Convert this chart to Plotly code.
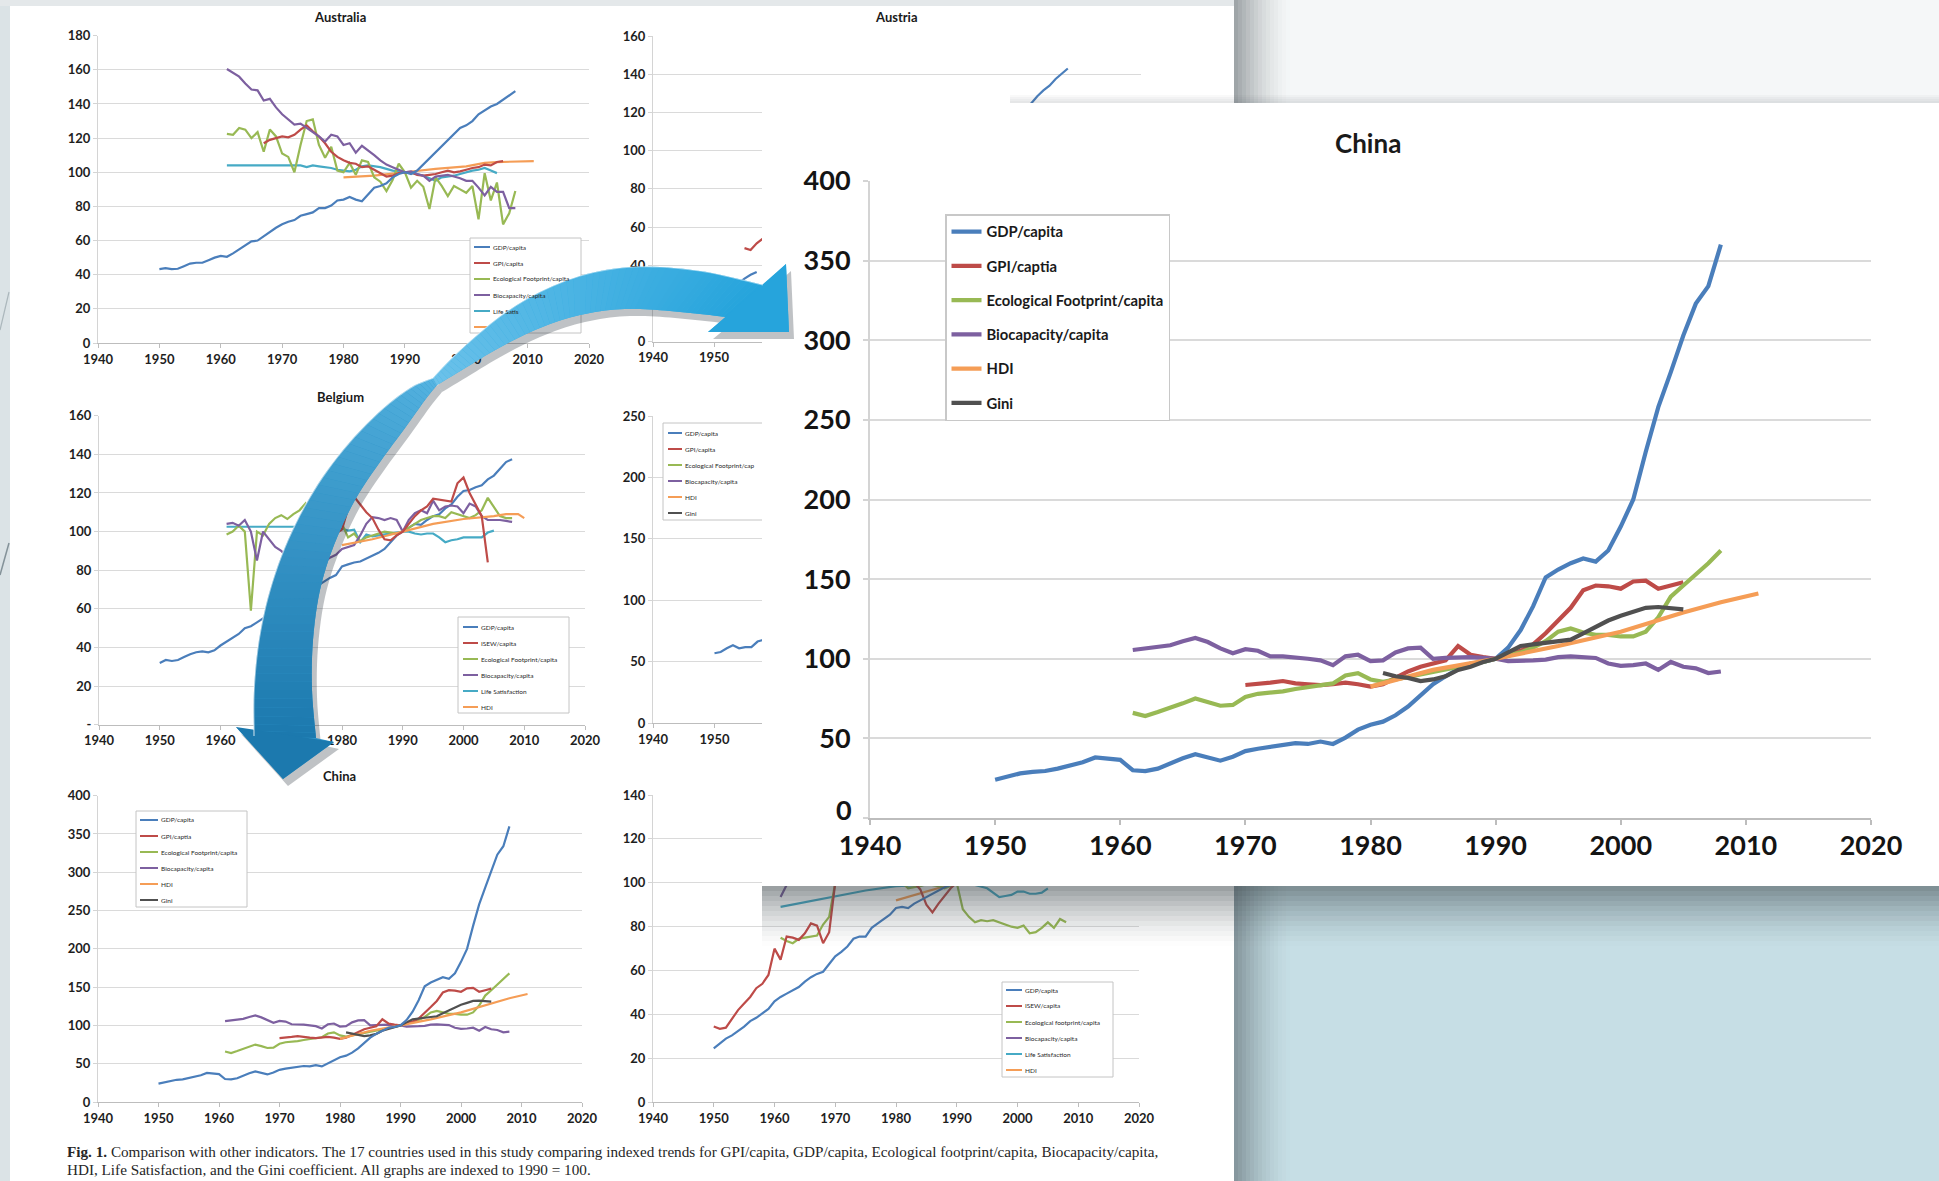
import plotly.graph_objects as go

W, H = 1939, 1181

# ===================== DATA (all series indexed, 1990 = 100) =====================
DECADES = [1940, 1950, 1960, 1970, 1980, 1990, 2000, 2010, 2020]
VISIBLE_DECADES = [1940, 1950]   # ticks left of the card on the two covered charts
BIG_Y_TICKS = [0, 50, 100, 150, 200, 250, 300, 350, 400]
BIG_Y_TEXT = ['', '50', '100', '150', '200', '250', '300', '350', '400']  # "0" sits higher, drawn apart

# ---- China (shown small on the page and enlarged on the card) ----
CHN_GDP_START = 1950
CHN_GDP = [24, 26, 28, 29, 29.5, 31, 33, 35, 38, 37.5,
           36.5, 30, 29.5, 31, 34.5, 37.5, 40, 38, 36, 38.5,
           42, 43.5, 44.5, 46, 47, 46.5, 48, 46.5, 50.5, 55.5,
           58.5, 60.5, 64.5, 70, 77, 84, 89, 93.5, 97, 98,
           100, 107, 118, 133, 151, 156, 160, 163, 161, 168,
           183, 200, 230, 258, 280, 303, 323, 334, 360]
CHN_GPI_START = 1970
CHN_GPI = [83.5, 84, 85, 86, 84.5, 84, 83.5, 84, 85, 84,
           82.5, 84, 88, 92, 95, 97, 99, 108, 102.5, 101,
           100, 103, 105, 109, 116, 124, 132, 143, 146, 145.5,
           144, 148.5, 149, 144, 146, 148]
CHN_ECO_START = 1961
CHN_ECO = [66, 64, 66.5, 69, 72, 75, 73, 70.5, 71, 76,
           78, 78.5, 79.5, 81, 82, 83, 84.5, 89.5, 91, 87,
           85.5, 87, 88.5, 90, 92, 93.5, 95, 96, 98, 100,
           102, 104, 107, 111, 117, 119, 116.5, 115, 115, 114,
           114, 117, 126, 139, 146, 153, 160, 168]
CHN_BIO_START = 1961
CHN_BIO = [105.5, 106.5, 107, 108.5, 111, 113, 110.5, 106.5, 103.5, 106,
           105, 101.5, 101.5, 101, 100, 99, 96, 101.5, 102.5, 98.5,
           99, 104, 106.5, 107, 100, 100.5, 101, 101, 100.5, 100,
           98.5, 98.5, 99, 99.5, 101, 101.5, 101, 100.5, 97, 95.5,
           96, 97, 93, 98, 95, 94, 91, 92]
CHN_HDI_YEARS = [1980, 1985, 1990, 1995, 2000, 2005, 2008, 2011]
CHN_HDI = [82.5, 93, 100, 108, 117, 129, 135.5, 141]
CHN_GINI_START = 1981
CHN_GINI = [91, 89, 88, 86, 87, 89, 93, 95, 98, 100,
            104, 108, 109, 110, 110.5, 112, 116, 120, 124, 127,
            129.5, 132, 132.5, 132, 131]
CHN_NAMES = ["GDP/capita", "GPI/captia", "Ecological Footprint/capita",
             "Biocapacity/capita", "HDI", "Gini"]

# ---- Australia ----
AUS_GDP_START = 1950
AUS_GDP = [43.3, 43.8, 43.3, 43.5, 45, 46.5, 47, 47, 48.5, 50,
           51, 50.5, 52.5, 55, 57.5, 59.5, 60, 62.5, 65.5, 67.5,
           69.5, 71, 72, 74.5, 75.5, 76.5, 79, 79, 80.5, 83.5,
           84, 85.5, 84, 83, 87, 91, 92, 93.5, 97, 99,
           100, 99, 101, 104.5, 108.5, 111.5, 115, 119, 122.5, 126,
           127.5, 130, 134, 136.5, 138.5, 140, 142.5, 145.5, 147.5]
AUS_GPI_START = 1967
AUS_GPI = [117, 119, 120, 121,
           120.5, 122, 125, 127.5, 124, 121, 117, 112, 109, 107,
           105.5, 105, 103, 103.5, 101.5, 99.5, 97.5, 98, 99.5, 100,
           100, 98.5, 98, 98.5, 99, 100, 101, 100, 100.5, 101.5,
           102.5, 103, 104.5, 104, 106, 106.5]
AUS_ECO_START = 1961
AUS_ECO = [122.5, 122, 126, 125, 120, 123.5, 112, 125, 121, 111,
           109, 100, 116, 130, 131, 116, 108.5, 115, 101, 100,
           105.5, 98.5, 107, 106, 97, 94.5, 89, 95.5, 105, 100,
           91, 95, 91.5, 78.5, 97, 92, 86, 92, 90, 88,
           92, 72.5, 99.5, 83.5, 94, 69.5, 76, 89]
AUS_BIO_START = 1961
AUS_BIO = [160.5, 158, 156, 152, 148.5, 148, 142, 143, 138, 134,
           131, 128, 128.5, 126, 124, 121, 118, 122, 121, 116,
           117, 111.5, 115.5, 113, 110, 107, 104.5, 103, 101.5, 100,
           100.5, 99, 98, 95, 97.5, 98, 98.5, 97.5, 96.5, 95,
           95, 91, 86.5, 91.5, 88.5, 88.5, 79, 79]
AUS_LS_YEARS = [1961, 1973, 1974, 1975, 1976, 1977, 1978, 1979, 1980, 1981,
                1982, 1983, 1984, 1985, 1986, 1987, 1988, 1989, 1990, 1991,
                1992, 1993, 1994, 1995, 1996, 1997, 1998, 1999, 2000, 2001,
                2002, 2003, 2004, 2005]
AUS_LS = [104, 104, 103, 104, 103.5, 103, 102.5, 101.5, 101, 100.5,
          101.5, 103.5, 104, 103.5, 103, 102, 101, 100.5, 100, 99.5,
          99, 98, 96.5, 95, 97, 97.5, 98, 99, 100, 101,
          101.5, 102.5, 101, 99.5]
AUS_HDI_YEARS = [1980, 1985, 1990, 1995, 2000, 2003, 2005, 2011]
AUS_HDI = [97, 98, 100, 102, 103.5, 105.5, 106, 106.5]
AUS_LABELS = ["GDP/capita", "GPI/capita", "Ecological Footprint/capita",
              "Biocapacity/capita", "Life Satis", ""]

# ---- Austria (mostly hidden behind the enlarged card) ----
AUT_GDP_YEARS = [1950, 1951, 1952, 1953, 1954, 1955, 1956, 1957, 1980,
                 2001, 2002, 2003, 2004, 2005, 2006, 2007, 2008]
AUT_GDP = [24, 26, 27, 28.5, 30.5, 33, 35, 36.5, None,
           121, 125, 128.5, 131.5, 134, 137.5, 140.5, 143]
AUT_GPI_YEARS = [1955, 1956, 1957, 1958]
AUT_GPI = [49, 48, 51.5, 54]

# ---- Belgium ----
BEL_GDP_START = 1950
BEL_GDP = [32, 33.5, 33, 33.5, 35, 36.5, 37.5, 38, 37.5, 38.5,
           41, 43, 45, 47, 50, 51, 53, 55, 58, 61,
           64, 66, 69, 72, 74, 72, 72, 74, 76, 77.5,
           82, 83, 84, 84.5, 86, 87.5, 89, 91, 94.5, 98,
           100, 102, 104, 103.5, 106, 108, 109, 112, 114, 118,
           121, 121.5, 123, 124, 127, 129, 132.5, 136, 137.5]
BEL_ISEW_START = 1970
BEL_ISEW = [62, 58, 58, 62, 88, 88.5, 88, 93, 97, 99,
            101, 112, 118, 114, 110, 107, 101, 96, 95.5, 98,
            100, 104, 108, 111, 113, 117, 116.5, 116, 115.5, 125,
            128, 120, 114, 108, 84]
BEL_ECO_START = 1961
BEL_ECO = [98.5, 100, 103, 100, 59, 100, 98, 104, 107, 108.5,
           106.5, 109, 111, 114.5, 108, 104, 102, 104, 108, 104,
           97, 99, 95, 97, 98, 99, 100, 99.5, 99, 100,
           102, 104, 106, 107, 108, 108, 107, 110, 109, 108,
           107, 108.5, 111, 117.5, 113, 108, 107, 107]
BEL_BIO_START = 1961
BEL_BIO = [104, 104.5, 103, 106, 100, 85, 100, 96, 92, 90,
           87, 91, 95, 98, 88, 84, 84, 86.5, 88, 91,
           92, 93, 98, 104, 107.5, 107, 106, 107, 106, 100,
           106, 109.5, 111, 109.5, 116, 111, 113, 113.5, 113, 109.5,
           114.5, 113, 108, 106, 106, 106, 105.5, 105]
BEL_LS_YEARS = [1961, 1979, 1980, 1981, 1982, 1983, 1984, 1985, 1986, 1987,
                1988, 1989, 1990, 1991, 1992, 1993, 1994, 1995, 1996, 1997,
                1998, 1999, 2000, 2001, 2002, 2003, 2004, 2005]
BEL_LS = [102.5, 102.5, 101.5, 100.5, 101, 94.5, 98.5, 97.5, 98, 98.5,
          99, 99.5, 100, 100, 99, 98.5, 99, 99, 97, 94.5,
          95.5, 96, 97, 97, 97, 97, 99.5, 100.5]
BEL_HDI_YEARS = [1980, 1985, 1990, 1995, 2000, 2005, 2007, 2009, 2010]
BEL_HDI = [93, 96, 100, 104, 106.5, 108, 109, 109, 107]
BEL_LABELS = ["GDP/capita", "ISEW/capita", "Ecological Footprint/capita",
              "Biocapacity/capita", "Life Satisfaction", "HDI"]

# ---- country plotted on a 0-250 scale (hidden behind the card) ----
C250_GDP_START = 1950
C250_GDP = [57, 58, 61, 63.5, 61, 62, 62, 66.5, 68]
C250_LABELS = ["GDP/capita", "GPI/capita", "Ecological Footprint/cap",
               "Biocapacity/capita", "HDI", "Gini"]

# ---- country plotted on a 0-140 scale (bottom right, partly hidden) ----
BR_GDP_START = 1950
BR_GDP = [24.6, 27, 29, 30.5, 32.5, 34.5, 37, 38.5, 40.5, 42.5,
          46, 48, 49.5, 51, 52.5, 55, 57, 58.5, 59.5, 63,
          66.5, 68.5, 71, 74.5, 75.5, 75.5, 79.5, 81.5, 83.5, 85.5,
          88.5, 89, 88.5, 90.5, 92, 93.5, 95, 96.5, 98, 99, 100]
BR_ISEW_YEARS = [1950, 1951, 1952, 1953, 1954, 1955, 1956, 1957, 1958, 1959,
                 1960, 1961, 1962, 1963, 1964, 1965, 1966, 1967, 1968, 1969,
                 1970, 1976, 1983, 1984, 1985, 1986, 1987, 1988, 1989, 1990]
BR_ISEW = [34.5, 33.5, 34, 38, 42, 45, 48, 52, 54, 58,
           70, 65, 75.5, 75, 74, 77, 81.5, 80.5, 72.5, 77.5,
           100, None, 100, 97, 90, 86.5, 90.5, 94, 97.5, 100]
BR_ECO_YEARS = [1961, 1962, 1963, 1964, 1965, 1966, 1967, 1968, 1969, 1970,
                1975,
                1981, 1982, 1983, 1984, 1985, 1986, 1987, 1988, 1989, 1990,
                1991, 1992, 1993, 1994, 1995, 1996, 1997, 1998, 1999, 2000,
                2001, 2002, 2003, 2004, 2005, 2006, 2007, 2008]
BR_ECO = [75, 73.5, 72.5, 74.5, 75, 75.5, 76, 81, 84.5, 100,
          None,
          100, 97.5, 98, 98.5, 99.5, 99, 98.5, 97.5, 98.5, 100,
          88, 84.5, 82, 83, 82.5, 83, 82, 81, 80, 79.5,
          80.5, 77, 77.5, 79.5, 82, 79.5, 83.5, 82]
BR_BIO_YEARS = [1961, 1962, 1963]
BR_BIO = [93.5, 99, 100]
BR_LS_YEARS = [1961, 1975, 1980, 1985, 1990, 1993, 1995, 1996, 1997, 1998,
               1999, 2000, 2001, 2002, 2003, 2004, 2005]
BR_LS = [89, 96.5, 98.5, 99, 100, 99, 97.5, 95.5, 93.5, 94,
         94.5, 96, 96, 95, 95, 95.5, 97.5]
BR_HDI_YEARS = [1980, 1985, 1990]
BR_HDI = [92, 96, 100]
BR_LABELS = ["GDP/capita", "ISEW/capita", "Ecological footprint/capita",
             "Biocapacity/capita", "Life Satisfaction", "HDI"]

CAPTION_1 = ("<b>Fig. 1.</b> Comparison with other indicators. The 17 countries used in this study "
             "comparing indexed trends for GPI/capita, GDP/capita, Ecological footprint/capita, "
             "Biocapacity/capita,")
CAPTION_2 = "HDI, Life Satisfaction, and the Gini coefficient. All graphs are indexed to 1990 = 100."

# ===================== STYLE =====================
C_GDP = '#4A7EBB'
C_GPI = '#BE4B48'
C_ECO = '#98B954'
C_BIO = '#7D60A0'
C_LS = '#46AAC5'
C_HDI = '#F59D56'
C_GINI = '#505050'
FONT = 'Lato'


def yrs(start, values):
    return list(range(start, start + len(values)))


def fx(px):
    return px / W


def fy(py):
    return 1 - py / H


fig = go.Figure()


def line(n, x, y, color, width, name=None, legend=False):
    ref = '' if n == 1 else str(n)
    fig.add_trace(go.Scatter(
        x=x, y=y, xaxis='x' + ref, yaxis='y' + ref, mode='lines',
        line=dict(color=color, width=width), name=name,
        showlegend=legend, legendgroup=(name if legend else None),
        hoverinfo='skip', connectgaps=False))


SW = 2.2
# 1 Australia
line(1, AUS_LS_YEARS, AUS_LS, C_LS, SW)
line(1, AUS_HDI_YEARS, AUS_HDI, C_HDI, SW)
line(1, yrs(AUS_ECO_START, AUS_ECO), AUS_ECO, C_ECO, SW)
line(1, yrs(AUS_GPI_START, AUS_GPI), AUS_GPI, C_GPI, SW)
line(1, yrs(AUS_BIO_START, AUS_BIO), AUS_BIO, C_BIO, SW)
line(1, yrs(AUS_GDP_START, AUS_GDP), AUS_GDP, C_GDP, SW)
# 2 Austria
line(2, AUT_GDP_YEARS, AUT_GDP, C_GDP, SW)
line(2, AUT_GPI_YEARS, AUT_GPI, C_GPI, SW)
# 3 Belgium
line(3, yrs(BEL_GDP_START, BEL_GDP), BEL_GDP, C_GDP, SW)
line(3, BEL_LS_YEARS, BEL_LS, C_LS, SW)
line(3, yrs(BEL_ECO_START, BEL_ECO), BEL_ECO, C_ECO, SW)
line(3, yrs(BEL_BIO_START, BEL_BIO), BEL_BIO, C_BIO, SW)
line(3, BEL_HDI_YEARS, BEL_HDI, C_HDI, SW)
line(3, yrs(BEL_ISEW_START, BEL_ISEW), BEL_ISEW, C_GPI, SW)
# 4 hidden 0-250 chart
line(4, yrs(C250_GDP_START, C250_GDP), C250_GDP, C_GDP, SW)
# 5 China small
line(5, yrs(CHN_BIO_START, CHN_BIO), CHN_BIO, C_BIO, SW)
line(5, yrs(CHN_ECO_START, CHN_ECO), CHN_ECO, C_ECO, SW)
line(5, yrs(CHN_GPI_START, CHN_GPI), CHN_GPI, C_GPI, SW)
line(5, CHN_HDI_YEARS, CHN_HDI, C_HDI, SW)
line(5, yrs(CHN_GINI_START, CHN_GINI), CHN_GINI, C_GINI, SW)
line(5, yrs(CHN_GDP_START, CHN_GDP), CHN_GDP, C_GDP, SW)
# 6 bottom-right chart
line(6, BR_LS_YEARS, BR_LS, C_LS, SW)
line(6, BR_BIO_YEARS, BR_BIO, C_BIO, SW)
line(6, BR_HDI_YEARS, BR_HDI, C_HDI, SW)
line(6, BR_ECO_YEARS, BR_ECO, C_ECO, SW)
line(6, BR_ISEW_YEARS, BR_ISEW, C_GPI, SW)
line(6, yrs(BR_GDP_START, BR_GDP), BR_GDP, C_GDP, SW)
# 7 the white card (empty subplot whose background covers the page)
fig.add_trace(go.Scatter(x=[], y=[], xaxis='x7', yaxis='y7', showlegend=False, hoverinfo='skip'))
# 8 China enlarged
BW = 4.2
big = [
    (yrs(CHN_GDP_START, CHN_GDP), CHN_GDP, C_GDP, CHN_NAMES[0]),
    (yrs(CHN_GPI_START, CHN_GPI), CHN_GPI, C_GPI, CHN_NAMES[1]),
    (yrs(CHN_ECO_START, CHN_ECO), CHN_ECO, C_ECO, CHN_NAMES[2]),
    (yrs(CHN_BIO_START, CHN_BIO), CHN_BIO, C_BIO, CHN_NAMES[3]),
    (CHN_HDI_YEARS, CHN_HDI, C_HDI, CHN_NAMES[4]),
    (yrs(CHN_GINI_START, CHN_GINI), CHN_GINI, C_GINI, CHN_NAMES[5]),
]
for x, y, c, nm in big:
    line(8, x, y, c, BW, name=nm, legend=True)

# ===================== AXES =====================
layout_axes = {}
small_font = dict(family=FONT, size=13, color='#1e1e1e', weight='bold')
big_font = dict(family=FONT, size=27, color='#141414', weight='bold')


def axes(n, x0, x1, y0, y1, yr, dt, big_axes=False, ytext=None, visible=True, xticks=DECADES):
    xk = 'xaxis' if n == 1 else 'xaxis%d' % n
    yk = 'yaxis' if n == 1 else 'yaxis%d' % n
    ref = '' if n == 1 else str(n)
    tf = big_font if big_axes else small_font
    gw = 2 if big_axes else 1
    tl = 5 if big_axes else 4
    xa = dict(domain=[fx(x0), fx(x1)], anchor='y' + ref, range=[1940, 2020],
              tickvals=xticks, showgrid=False, zeroline=False, showline=True,
              linecolor='#bdbdbd', linewidth=gw, ticks='outside', ticklen=tl,
              tickcolor='#bdbdbd', tickwidth=gw, tickfont=tf, fixedrange=True,
              visible=visible, automargin=False)
    ya = dict(domain=[fy(y1), fy(y0)], anchor='x' + ref, range=yr, dtick=dt,
              showgrid=True, gridcolor='#dadada', gridwidth=gw, zeroline=False,
              showline=True, linecolor='#d4d4d4', linewidth=gw, ticks='outside',
              ticklen=tl, tickcolor='#d4d4d4', tickwidth=gw, tickfont=tf,
              fixedrange=True, visible=visible, automargin=False)
    if big_axes:
        ya['ticklabelstandoff'] = 7
        xa['ticklabelstandoff'] = -2
    if ytext is not None:
        ya.pop('dtick')
        ya['tickvals'] = ytext[0]
        ya['ticktext'] = ytext[1]
    layout_axes[xk] = xa
    layout_axes[yk] = ya


axes(1, 98, 589, 35.7, 343, [0, 180], 20)
axes(2, 653, 1141, 36, 341.7, [0, 160], 20, xticks=VISIBLE_DECADES)
axes(3, 99, 585, 415.7, 724.7, [0, 160], 20,
     ytext=([0, 20, 40, 60, 80, 100, 120, 140, 160],
            ['-', '20', '40', '60', '80', '100', '120', '140', '160']))
axes(4, 653, 1145, 416, 723.3, [0, 250], 50, xticks=VISIBLE_DECADES)
axes(5, 98, 582, 795.7, 1102, [0, 400], 50)
axes(6, 653, 1139, 795, 1102.3, [0, 140], 20)
axes(7, 762, 1939, 103, 886, [0, 1], 1, visible=False)
axes(8, 870, 1871, 181, 818, [0, 400], 50, big_axes=True, ytext=(BIG_Y_TICKS, BIG_Y_TEXT))

# ===================== SHAPES =====================
shapes = []


def rect(x0, y0, x1, y1, fill, layer='below', line_color=None, lw=0):
    shapes.append(dict(type='rect', xref='paper', yref='paper', x0=fx(x0), x1=fx(x1),
                       y0=fy(y1), y1=fy(y0), fillcolor=fill, layer=layer,
                       line=dict(width=lw, color=line_color or 'rgba(0,0,0,0)')))


def seg(x0, y0, x1, y1, color, w, layer='above'):
    shapes.append(dict(type='line', xref='paper', yref='paper', x0=fx(x0), x1=fx(x1),
                       y0=fy(y0), y1=fy(y1), layer=layer, line=dict(color=color, width=w)))


def pathstr(pts, close=True):
    d = ''
    for i, (x, y) in enumerate(pts):
        d += ('M' if i == 0 else 'L') + '%.5f,%.5f ' % (fx(x), fy(y))
    return d + ('Z' if close else '')


def poly(pts, fill, layer='above'):
    shapes.append(dict(type='path', xref='paper', yref='paper', path=pathstr(pts),
                       fillcolor=fill, layer=layer, line=dict(width=0)))


def polyline(pts, color, w, layer='above'):
    shapes.append(dict(type='path', xref='paper', yref='paper', path=pathstr(pts, False),
                       layer=layer, line=dict(width=w, color=color)))


# background pieces (below everything)
rect(0, 0, 12, H, '#dbe3e6')
rect(0, 0, 1240, 6, '#e4e8ea')
rect(1234, 0, W, 103, '#f5f7f8')
rect(1234, 886, W, H, '#c6dee5')
rect(10, 6, 1234, H, '#ffffff')
for i in range(14):
    a = 0.45 * (1 - i / 14) ** 1.6
    rect(1234 + i * 4, 0, 1234 + (i + 1) * 4, H, 'rgba(55,65,70,%.3f)' % a)
seg(0, 575, 9, 543, 'rgba(60,80,90,0.55)', 1.5, layer='below')
seg(0, 330, 9, 292, 'rgba(60,80,90,0.30)', 1.2, layer='below')

# small legends (drawn as boxes, sample lines and text)
annotations = []


def small_legend(x0, y0, x1, y1, first, step, sx0, sx1, labels, colors, open_right=False):
    if open_right:
        rect(x0, y0, x1, y1, 'white', layer='above')
        seg(x1, y0, x0, y0, '#c4c4c4', 1)
        seg(x0, y0, x0, y1, '#c4c4c4', 1)
        seg(x0, y1, x1, y1, '#c4c4c4', 1)
    else:
        rect(x0, y0, x1, y1, 'white', layer='above', line_color='#c4c4c4', lw=1)
    for i, (lab, col) in enumerate(zip(labels, colors)):
        yy = first + i * step
        seg(sx0, yy, sx1, yy, col, 2)
        if lab:
            annotations.append(dict(x=fx(sx1 + 1), y=fy(yy), xref='paper', yref='paper',
                                    text=lab, showarrow=False, xanchor='left', yanchor='middle',
                                    font=dict(family=FONT, size=6.5, color='#2a2a2a')))


small_legend(470, 238, 581, 333, 247, 16, 474, 490, AUS_LABELS,
             [C_GDP, C_GPI, C_ECO, C_BIO, C_LS, C_HDI])
small_legend(458, 617, 569, 713, 627, 16, 463, 478, BEL_LABELS,
             [C_GDP, C_GPI, C_ECO, C_BIO, C_LS, C_HDI])
small_legend(136, 811, 247, 907, 820, 16, 140, 158, CHN_NAMES,
             [C_GDP, C_GPI, C_ECO, C_BIO, C_HDI, C_GINI])
small_legend(1002, 982, 1113, 1077, 990, 16, 1006, 1022, BR_LABELS,
             [C_GDP, C_GPI, C_ECO, C_BIO, C_LS, C_HDI])
small_legend(663, 423, 762, 520, 433, 16, 668, 682, C250_LABELS,
             [C_GDP, C_GPI, C_ECO, C_BIO, C_HDI, C_GINI], open_right=True)

# shadows cast by the card (below it onto the page/background, faint one above it)
for i in range(12):
    a = 0.50 * (1 - i / 12) ** 1.5
    rect(762, 886 + i * 5, W, 886 + (i + 1) * 5, 'rgba(55,65,70,%.3f)' % a, layer='above')
for i in range(4):
    a = 0.13 * (i + 1) / 4
    rect(1010, 95 + i * 2, W, 97 + i * 2, 'rgba(55,65,70,%.3f)' % a, layer='above')


# ---- curved double arrow (smooth edges through guide points) ----
def spline(ctrl, k=6):
    out = []
    n = len(ctrl)
    for i in range(n - 1):
        p0 = ctrl[max(i - 1, 0)]
        p1 = ctrl[i]
        p2 = ctrl[i + 1]
        p3 = ctrl[min(i + 2, n - 1)]
        for s in range(k):
            t = s / k
            t2, t3 = t * t, t * t * t
            out.append(tuple(0.5 * (2 * p1[j] + (-p0[j] + p2[j]) * t
                                    + (2 * p0[j] - 5 * p1[j] + 4 * p2[j] - p3[j]) * t2
                                    + (-p0[j] + 3 * p1[j] - 3 * p2[j] + p3[j]) * t3)
                             for j in range(2)))
    out.append(ctrl[-1])
    return out


def mix(c1, c2, t):
    a = [int(c1[i:i + 2], 16) for i in (1, 3, 5)]
    b = [int(c2[i:i + 2], 16) for i in (1, 3, 5)]
    return '#%02x%02x%02x' % tuple(round(a[q] + (b[q] - a[q]) * t) for q in range(3))


LOW_L = spline([(254, 736), (254, 690), (259, 640), (270, 590), (288, 540), (313, 492),
                (343, 450), (378, 413), (410, 388), (433, 378)])
LOW_R = spline([(316, 738), (312, 690), (313, 640), (320, 590), (334, 545), (355, 500),
                (380, 462), (405, 428), (425, 400), (437, 385)])
UP_T = spline([(763, 285), (730, 277), (700, 271), (660, 267), (620, 268), (580, 276),
               (540, 292), (505, 313), (475, 337), (450, 360), (433, 378)])
UP_B = spline([(726, 317), (700, 314), (670, 311), (640, 309), (610, 310), (580, 315),
               (550, 324), (520, 337), (490, 353), (462, 370), (437, 385)])
LOW_HEAD = [(236, 727), (283, 779), (334, 742)]
UP_HEAD = [(786, 264), (789, 332), (708, 332)]

lower_full = LOW_HEAD + LOW_R + LOW_L[::-1]
upper_full = [UP_T[0], UP_HEAD[0], UP_HEAD[1], UP_HEAD[2]] + UP_B + UP_T[::-1][:-1]
poly([(x + 5, y + 7) for x, y in lower_full], 'rgba(25,35,45,0.28)')
poly([(x + 5, y + 7) for x, y in upper_full], 'rgba(25,35,45,0.28)')
poly(lower_full, '#3094c8')
poly(upper_full, '#3aaee0')
nL = len(LOW_L) - 1
for i in range(nL):
    poly([LOW_L[i], LOW_R[i], LOW_R[i + 1], LOW_L[i + 1]], mix('#1c79ae', '#55b4e2', i / (nL - 1)))
poly(LOW_HEAD, '#1c79ae')
nU = len(UP_T) - 1
for i in range(nU):
    poly([UP_T[i], UP_B[i], UP_B[i + 1], UP_T[i + 1]], mix('#26a4dc', '#6cc2ea', i / (nU - 1)))
poly(UP_HEAD, '#26a4dc')
polyline(LOW_L, 'rgba(255,255,255,0.55)', 1.5)
polyline(UP_T[::-1], 'rgba(255,255,255,0.45)', 1.2)

# ===================== TEXT =====================


def title(txt, x, y, size):
    annotations.append(dict(x=fx(x), y=fy(y), xref='paper', yref='paper', text=txt,
                            showarrow=False, xanchor='center', yanchor='middle',
                            font=dict(family=FONT, size=size, color='#1a1a1a', weight='bold')))


title('Australia', 340, 17, 13)
title('Austria', 896, 17, 13)
title('Belgium', 340, 397, 13)
title('China', 339, 776, 13)
title('China', 1368, 143, 26)
# the zero label of the enlarged chart sits a little above its axis line
annotations.append(dict(x=DECADES[0], y=BIG_Y_TICKS[0], xref='x8', yref='y8', text='0',
                        showarrow=False, xanchor='right', yanchor='middle',
                        xshift=-16, yshift=9, font=big_font))
for txt, yy in [(CAPTION_1, 1151), (CAPTION_2, 1169)]:
    annotations.append(dict(x=fx(65), y=fy(yy), xref='paper', yref='paper', text=txt,
                            showarrow=False, xanchor='left', yanchor='middle',
                            font=dict(family='Liberation Serif', size=15.2, color='#262626')))

fig.update_layout(
    width=W, height=H, autosize=False,
    margin=dict(l=0, r=0, t=0, b=0, pad=0, autoexpand=False),
    paper_bgcolor='#eef1f3', plot_bgcolor='white',
    shapes=shapes, annotations=annotations,
    showlegend=True,
    legend=dict(x=fx(945), y=fy(214), xanchor='left', yanchor='top', bgcolor='white',
                bordercolor='#c8c8c8', borderwidth=1.5, traceorder='grouped',
                tracegroupgap=12, itemclick=False, itemdoubleclick=False,
                font=dict(family=FONT, size=14.8, color='#1a1a1a', weight='bold')),
    **layout_axes,
)

fig.write_html('out.html')
